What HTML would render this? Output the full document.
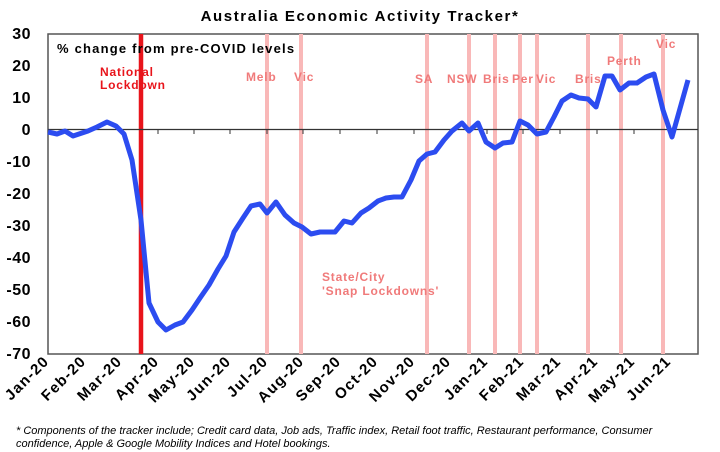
<!DOCTYPE html><html><head><style>body{margin:0;background:#fff}svg{display:block}</style></head><body>
<svg width="720" height="452" xmlns="http://www.w3.org/2000/svg" font-family="Liberation Sans, Arial, sans-serif">
<text x="360" y="21" text-anchor="middle" font-size="15" font-weight="bold" letter-spacing="1.6">Australia Economic Activity Tracker*</text>
<rect x="48" y="34" width="650" height="320" fill="none" stroke="#555" stroke-width="1.5"/>
<g stroke="#f9b8b8" stroke-width="4">
<line x1="267" y1="34" x2="267" y2="354"/><line x1="301" y1="34" x2="301" y2="354"/><line x1="427" y1="34" x2="427" y2="354"/><line x1="469" y1="34" x2="469" y2="354"/><line x1="495" y1="34" x2="495" y2="354"/><line x1="520" y1="34" x2="520" y2="354"/><line x1="537" y1="34" x2="537" y2="354"/><line x1="588" y1="34" x2="588" y2="354"/><line x1="621" y1="34" x2="621" y2="354"/><line x1="663" y1="34" x2="663" y2="354"/>
</g>
<line x1="141" y1="34" x2="141" y2="354" stroke="#e8141b" stroke-width="4.5"/>
<line x1="48" y1="129.5" x2="698" y2="129.5" stroke="#333" stroke-width="1.2"/>
<g stroke="#333" stroke-width="1">
<line x1="85" y1="130" x2="85" y2="134"/><line x1="121" y1="130" x2="121" y2="134"/><line x1="158" y1="130" x2="158" y2="134"/><line x1="194" y1="130" x2="194" y2="134"/><line x1="230" y1="130" x2="230" y2="134"/><line x1="267" y1="130" x2="267" y2="134"/><line x1="303" y1="130" x2="303" y2="134"/><line x1="340" y1="130" x2="340" y2="134"/><line x1="377" y1="130" x2="377" y2="134"/><line x1="414" y1="130" x2="414" y2="134"/><line x1="450" y1="130" x2="450" y2="134"/><line x1="487" y1="130" x2="487" y2="134"/><line x1="523" y1="130" x2="523" y2="134"/><line x1="560" y1="130" x2="560" y2="134"/><line x1="597" y1="130" x2="597" y2="134"/><line x1="634" y1="130" x2="634" y2="134"/><line x1="670" y1="130" x2="670" y2="134"/>
</g>
<polyline fill="none" stroke="#2c4cf0" stroke-width="5" stroke-linejoin="round" points="48,132 57,134 65,131 73,136 88,131 97,127 107,122 116,126 124,134 132,160 141,220 149,303 158,322 166,330 175,325 183,322 192,310 200,298 209,285 218,269 226,256 234,232 243,218 251,206 260,204 267,213 276,202 285,215 294,223 302,227 311,234 320,232 328,232 335,232 344,221 352,223 361,213 369,208 378,201 386,198 394,197 402,197 411,180 419,161 427,154 435,152 444,140 452,131 462,123 469,131 478,123 486,142 495,148 503,143 512,142 520,121 528,125 537,134 546,132 554,117 562,101 571,95 579,98 588,99 596,107 605,76 612,76 620,90 629,83 637,83 646,77 654,74 663,110 672,137 688,80"/>
<g font-size="16" font-weight="bold" text-anchor="end" letter-spacing="0.5">
<text x="31" y="39">30</text><text x="31" y="71">20</text><text x="31" y="103">10</text><text x="31" y="135">0</text><text x="31" y="167">-10</text><text x="31" y="199">-20</text><text x="31" y="231">-30</text><text x="31" y="263">-40</text><text x="31" y="295">-50</text><text x="31" y="327">-60</text><text x="31" y="359">-70</text>
</g>
<text x="57" y="53" font-size="13" font-weight="bold" letter-spacing="1.2">% change from pre-COVID levels</text>
<g font-size="12" font-weight="bold" fill="#e8141b" letter-spacing="0.8"><text x="100" y="76">National</text><text x="100" y="89">Lockdown</text></g>
<g font-size="12" font-weight="bold" fill="#f07a7a" letter-spacing="0.8">
<text x="246" y="81">Melb</text><text x="294" y="81">Vic</text><text x="415" y="83">SA</text><text x="447" y="83">NSW</text><text x="483" y="83">Bris</text><text x="512" y="83">Per</text><text x="536" y="83">Vic</text><text x="575" y="83">Bris</text><text x="607" y="65">Perth</text><text x="656" y="48">Vic</text>
<text x="322" y="281">State/City</text><text x="322" y="295">'Snap Lockdowns'</text>
</g>
<g font-size="15" font-weight="bold" text-anchor="end" letter-spacing="1.3">
<text transform="translate(50,362) rotate(-45)">Jan-20</text><text transform="translate(87,362) rotate(-45)">Feb-20</text><text transform="translate(123,362) rotate(-45)">Mar-20</text><text transform="translate(160,362) rotate(-45)">Apr-20</text><text transform="translate(196,362) rotate(-45)">May-20</text><text transform="translate(232,362) rotate(-45)">Jun-20</text><text transform="translate(269,362) rotate(-45)">Jul-20</text><text transform="translate(305,362) rotate(-45)">Aug-20</text><text transform="translate(342,362) rotate(-45)">Sep-20</text><text transform="translate(379,362) rotate(-45)">Oct-20</text><text transform="translate(416,362) rotate(-45)">Nov-20</text><text transform="translate(452,362) rotate(-45)">Dec-20</text><text transform="translate(489,362) rotate(-45)">Jan-21</text><text transform="translate(525,362) rotate(-45)">Feb-21</text><text transform="translate(562,362) rotate(-45)">Mar-21</text><text transform="translate(599,362) rotate(-45)">Apr-21</text><text transform="translate(636,362) rotate(-45)">May-21</text><text transform="translate(672,362) rotate(-45)">Jun-21</text>
</g>
<g font-size="11" font-style="italic"><text x="16" y="434">* Components of the tracker include; Credit card data, Job ads, Traffic index, Retail foot traffic, Restaurant performance, Consumer</text><text x="16" y="447">confidence, Apple &amp; Google Mobility Indices and Hotel bookings.</text></g>
</svg></body></html>
